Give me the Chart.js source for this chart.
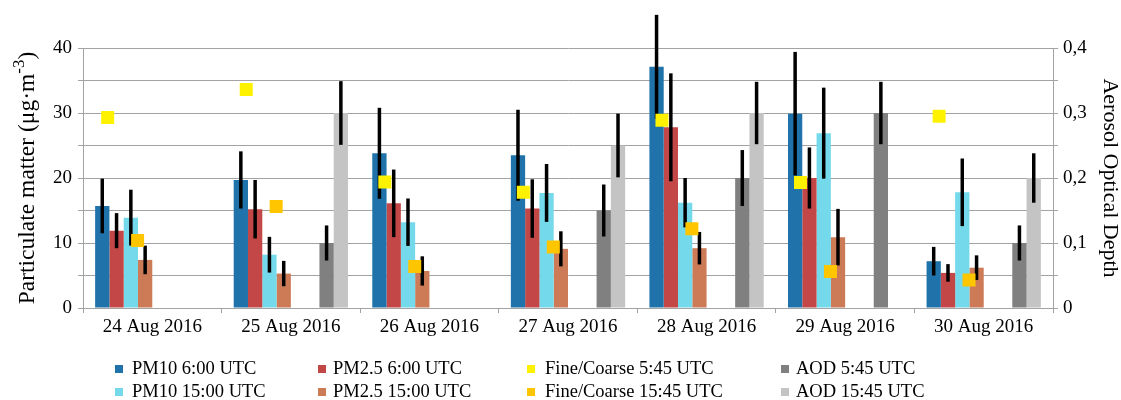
<!DOCTYPE html>
<html>
<head>
<meta charset="utf-8">
<script src="https://cdn.jsdelivr.net/npm/chart.js@4.4.1/dist/chart.umd.min.js"></script>
<style>
  html, body { margin: 0; padding: 0; background: #fff; }
  #wrap { position: relative; width: 1121px; height: 400px; }
  #legend { position: absolute; left: 0; top: 0; width: 1121px; height: 400px; pointer-events: none;
            font-family: "Liberation Serif", "Times New Roman", serif; font-size: 18.5px; color: #000; }
  .lbl { position: absolute; white-space: nowrap; line-height: 1; }
  .sw { position: absolute; width: 8px; height: 8px; }
</style>
</head>
<body>
<div id="wrap">
  <canvas id="chart" width="1121" height="400"></canvas>
  <div id="legend"></div>
</div>
<script>
// Measurement days
const categories = ['24 Aug 2016', '25 Aug 2016', '26 Aug 2016', '27 Aug 2016',
                    '28 Aug 2016', '29 Aug 2016', '30 Aug 2016'];

// Particulate matter, µg·m-3 (left axis), with ± errors
const pm10Morning      = [15.7, 19.7, 23.8, 23.5, 37.1, 29.9, 7.2];
const pm10MorningErr   = [4.2, 4.4, 7.0, 7.0, 8.0, 9.5, 2.2];
const pm25Morning      = [11.9, 15.2, 16.1, 15.3, 27.8, 20.0, 5.4];
const pm25MorningErr   = [2.7, 4.5, 5.2, 4.5, 8.3, 4.7, 1.35];
const pm10Afternoon    = [13.9, 8.2, 13.2, 17.7, 16.2, 26.9, 17.8];
const pm10AfternoonErr = [4.3, 2.75, 3.65, 4.45, 3.8, 7.0, 5.2];
const pm25Afternoon    = [7.4, 5.3, 5.7, 9.1, 9.2, 10.9, 6.2];
const pm25AfternoonErr = [2.2, 1.95, 2.25, 2.7, 2.5, 4.35, 1.9];

// Fine/coarse ratio (right axis)
const fineCoarseMorning   = [0.293, 0.336, 0.194, 0.178, 0.289, 0.193, 0.295];
const fineCoarseAfternoon = [0.104, 0.156, 0.064, 0.094, 0.122, 0.056, 0.043];

// Aerosol optical depth (right axis), with ± errors
const aodMorning      = [null, 0.10, null, 0.15, 0.20, 0.30, 0.10];
const aodMorningErr   = [null, 0.027, null, 0.04, 0.043, 0.048, 0.027];
const aodAfternoon    = [null, 0.30, null, 0.25, 0.30, null, 0.20];
const aodAfternoonErr = [null, 0.049, null, 0.049, 0.048, null, 0.038];

// Axis tick values
const leftTicks  = [0, 10, 20, 30, 40];
const rightTicks = [0, 0.1, 0.2, 0.3, 0.4];

const FONT = '"Liberation Serif", "Times New Roman", serif';
const GRID = '#a3a3a3';

const emptyRow = categories.map(() => null);

const datasets = [
  { type: 'line', label: 'Fine/Coarse 5:45 UTC', data: fineCoarseMorning, shift: -0.322,
    yAxisID: 'y2', showLine: false, order: -1,
    pointStyle: 'rect', pointRadius: 9.2, pointBorderWidth: 0,
    backgroundColor: '#FFF200', pointBackgroundColor: '#FFF200' },
  { type: 'line', label: 'Fine/Coarse 15:45 UTC', data: fineCoarseAfternoon, shift: -0.106,
    yAxisID: 'y2', showLine: false, order: -1,
    pointStyle: 'rect', pointRadius: 9.2, pointBorderWidth: 0,
    backgroundColor: '#FFC600', pointBackgroundColor: '#FFC600' },
  { label: 'PM10 6:00 UTC',   data: pm10Morning,   errors: pm10MorningErr,   yAxisID: 'y',  backgroundColor: '#1F73AA' },
  { label: 'PM2.5 6:00 UTC',  data: pm25Morning,   errors: pm25MorningErr,   yAxisID: 'y',  backgroundColor: '#C34747' },
  { label: 'PM10 15:00 UTC',  data: pm10Afternoon, errors: pm10AfternoonErr, yAxisID: 'y',  backgroundColor: '#74D9EA' },
  { label: 'PM2.5 15:00 UTC', data: pm25Afternoon, errors: pm25AfternoonErr, yAxisID: 'y',  backgroundColor: '#CD7B57' },
  { label: '', data: emptyRow, yAxisID: 'y', backgroundColor: 'rgba(0,0,0,0)' },
  { label: '', data: emptyRow, yAxisID: 'y', backgroundColor: 'rgba(0,0,0,0)' },
  { label: 'AOD 5:45 UTC',    data: aodMorning,    errors: aodMorningErr,    yAxisID: 'y2', backgroundColor: '#808080' },
  { label: 'AOD 15:45 UTC',   data: aodAfternoon,  errors: aodAfternoonErr,  yAxisID: 'y2', backgroundColor: '#C4C4C4' }
];

// Moves the ratio markers off the group centre by a fraction of a category
const markerShift = {
  id: 'markerShift',
  afterDatasetsUpdate(chart) {
    const xScale = chart.scales.x;
    chart.data.datasets.forEach((ds, di) => {
      if (ds.shift === undefined) return;
      chart.getDatasetMeta(di).data.forEach((pt, i) => {
        pt.x = xScale.getPixelForValue(i + ds.shift);
      });
    });
  }
};

// Vertical error bars, centred on each bar
const errorBars = {
  id: 'errorBars',
  afterDatasetDraw(chart, args) {
    const ds = chart.data.datasets[args.index];
    if (!ds.errors) return;
    const meta = args.meta;
    const yScale = chart.scales[meta.yAxisID];
    const ctx = chart.ctx;
    ctx.save();
    ctx.strokeStyle = '#000';
    ctx.lineWidth = 3.5;
    ctx.lineCap = 'butt';
    meta.data.forEach((bar, i) => {
      const v = ds.data[i], e = ds.errors[i];
      if (v == null || e == null) return;
      ctx.beginPath();
      ctx.moveTo(bar.x, yScale.getPixelForValue(v + e));
      ctx.lineTo(bar.x, yScale.getPixelForValue(v - e));
      ctx.stroke();
    });
    ctx.restore();
  }
};

// Left axis title with a superscript exponent
const leftTitle = {
  id: 'leftTitle',
  afterDraw(chart) {
    const { ctx, chartArea } = chart;
    const size = 23.5, supSize = 17;
    const part1 = 'Particulate matter (\u03bcg\u00b7m', sup = '-3', part2 = ')';
    ctx.save();
    ctx.translate(33.5, (chartArea.top + chartArea.bottom) / 2);
    ctx.rotate(-Math.PI / 2);
    ctx.fillStyle = '#000';
    ctx.textBaseline = 'alphabetic';
    ctx.textAlign = 'left';
    ctx.font = size + 'px ' + FONT;
    const w1 = ctx.measureText(part1).width, w3 = ctx.measureText(part2).width;
    ctx.font = supSize + 'px ' + FONT;
    const w2 = ctx.measureText(sup).width;
    const x0 = -(w1 + w2 + w3) / 2;
    ctx.font = size + 'px ' + FONT;
    ctx.fillText(part1, x0, 0);
    ctx.fillText(part2, x0 + w1 + w2, 0);
    ctx.font = supSize + 'px ' + FONT;
    ctx.fillText(sup, x0 + w1, -10);
    ctx.restore();
  }
};

const chart = new Chart(document.getElementById('chart'), {
  type: 'bar',
  data: { labels: categories, datasets },
  plugins: [markerShift, errorBars, leftTitle],
  options: {
    responsive: false,
    animation: false,
    devicePixelRatio: 1,
    layout: { padding: { top: 48, left: 0, right: 0, bottom: 0 } },
    datasets: { bar: { categoryPercentage: 0.825, barPercentage: 1.0, borderWidth: 0 } },
    plugins: { legend: { display: false }, tooltip: { enabled: false } },
    scales: {
      x: {
        type: 'category',
        offset: true,
        grid: { drawOnChartArea: false, drawTicks: true, tickLength: 5, offset: true, color: GRID },
        border: { color: GRID },
        ticks: { color: '#000', font: { family: FONT, size: 19 }, padding: 3, maxRotation: 0 },
        afterFit: s => { s.height = 92; }
      },
      y: {
        position: 'left',
        min: leftTicks[0], max: leftTicks[leftTicks.length - 1],
        ticks: {
          stepSize: 5, color: '#000', padding: 6, font: { family: FONT, size: 19 },
          callback: v => leftTicks.includes(v) ? String(v) : ''
        },
        grid: { color: GRID, tickLength: 5 },
        border: { color: GRID },
        afterFit: s => { s.width = 83; }
      },
      y2: {
        position: 'right',
        min: rightTicks[0], max: rightTicks[rightTicks.length - 1],
        ticks: {
          stepSize: 0.05, color: '#000', padding: 5, font: { family: FONT, size: 19 },
          callback: v => {
            const hit = rightTicks.find(t => Math.abs(t - v) < 1e-9);
            if (hit === undefined) return '';
            return hit === 0 ? '0' : hit.toFixed(1).replace('.', ',');
          }
        },
        grid: { drawOnChartArea: false, color: GRID, tickLength: 5 },
        border: { color: GRID },
        title: { display: true, text: 'Aerosol Optical Depth', color: '#000',
                 font: { family: FONT, size: 22, lineHeight: 1 }, padding: 0 },
        afterFit: s => { s.width = 68; }
      }
    }
  }
});

// Legend in four columns, two rows
const legendLayout = [
  { label: 'PM10 6:00 UTC',         col: 0, row: 0 },
  { label: 'PM10 15:00 UTC',        col: 0, row: 1 },
  { label: 'PM2.5 6:00 UTC',        col: 1, row: 0 },
  { label: 'PM2.5 15:00 UTC',       col: 1, row: 1 },
  { label: 'Fine/Coarse 5:45 UTC',  col: 2, row: 0 },
  { label: 'Fine/Coarse 15:45 UTC', col: 2, row: 1 },
  { label: 'AOD 5:45 UTC',          col: 3, row: 0 },
  { label: 'AOD 15:45 UTC',         col: 3, row: 1 }
];
const colSwatchX = [115, 318, 527, 781];
const colTextX   = [132, 333, 545, 796];
const rowMid     = [368.5, 391.5];
const legendEl = document.getElementById('legend');
legendLayout.forEach(item => {
  const ds = datasets.find(d => d.label === item.label);
  const sw = document.createElement('div');
  sw.className = 'sw';
  sw.style.left = colSwatchX[item.col] + 'px';
  sw.style.top = (rowMid[item.row] - 4) + 'px';
  sw.style.background = ds.backgroundColor;
  legendEl.appendChild(sw);
  const t = document.createElement('div');
  t.className = 'lbl';
  t.textContent = item.label;
  t.style.left = colTextX[item.col] + 'px';
  t.style.top = (rowMid[item.row] - 9.6) + 'px';
  legendEl.appendChild(t);
});
</script>
</body>
</html>
